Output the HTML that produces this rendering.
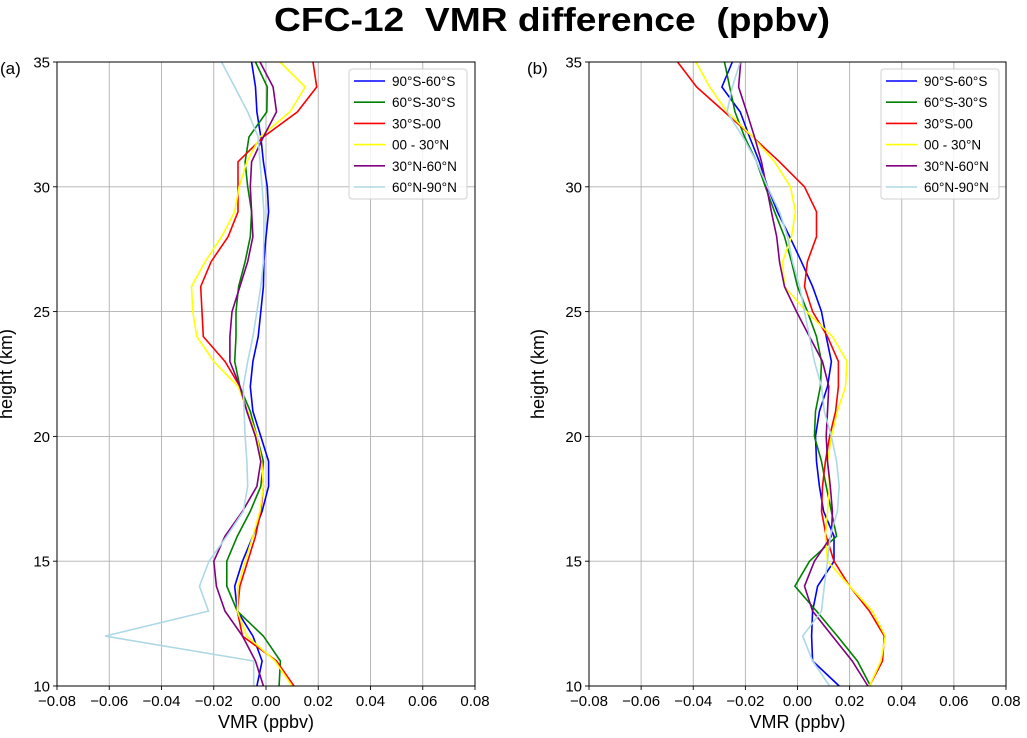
<!DOCTYPE html>
<html><head><meta charset="utf-8"><style>
body{margin:0;background:#fff;}
svg{display:block;font-family:"Liberation Sans","DejaVu Sans",sans-serif;}
</style></head><body>
<svg id="fig" width="1027" height="738" viewBox="0 0 1027 738">
<text x="552" y="31" text-anchor="middle" font-size="33" font-weight="bold" style="white-space:pre" textLength="556" lengthAdjust="spacingAndGlyphs">CFC-12  VMR difference  (ppbv)</text>
</svg>
<script>
const heights=[10,11,12,13,14,15,16,17,18,19,20,21,22,23,24,25,26,27,28,29,30,31,32,33,34,35];
const xTicks=[-0.08,-0.06,-0.04,-0.02,0.00,0.02,0.04,0.06,0.08];
const xTickLabels=["\u22120.08","\u22120.06","\u22120.04","\u22120.02","0.00","0.02","0.04","0.06","0.08"];
const yTicks=[10,15,20,25,30,35];
const seriesNames=["90°S-60°S","60°S-30°S","30°S-00","00 - 30°N","30°N-60°N","60°N-90°N"];
const seriesColors=["#0000ff","#008000","#ff0000","#ffff00","#800080","#add8e6"];
const a_s1=[-0.0035,-0.0015,-0.005,-0.011,-0.012,-0.009,-0.005,-0.0015,0.001,0.001,-0.002,-0.005,-0.006,-0.005,-0.003,-0.002,-0.001,-0.0008,0,0.001,0.0005,-0.001,-0.002,-0.0035,-0.004,-0.0055];
const a_s2=[0.005,0.0055,-0.001,-0.011,-0.015,-0.015,-0.011,-0.006,-0.002,-0.001,-0.0035,-0.006,-0.010,-0.012,-0.0115,-0.0115,-0.0105,-0.008,-0.006,-0.0055,-0.007,-0.008,-0.0065,0.0003,0.0005,-0.004];
const a_s3=[0.0107,0.004,-0.009,-0.011,-0.010,-0.007,-0.004,-0.002,-0.001,-0.0017,-0.004,-0.0073,-0.010,-0.0157,-0.024,-0.0245,-0.025,-0.021,-0.0145,-0.0107,-0.0107,-0.0107,-0.001,0.012,0.0194,0.018];
const a_s4=[0.010,0.0035,-0.0073,-0.011,-0.0107,-0.008,-0.005,-0.0023,-0.001,-0.0017,-0.0035,-0.007,-0.0107,-0.020,-0.0265,-0.028,-0.0285,-0.0233,-0.017,-0.012,-0.0103,-0.0073,-0.0023,0.0092,0.015,0.0054];
const a_s5=[-0.001,-0.004,-0.009,-0.0157,-0.019,-0.020,-0.0157,-0.009,-0.0035,-0.002,-0.004,-0.0073,-0.010,-0.0138,-0.0138,-0.013,-0.010,-0.007,-0.005,-0.0055,-0.006,-0.0055,-0.001,0.004,0.0027,-0.0023];
const a_s6=[-0.0047,-0.0047,-0.0616,-0.022,-0.0255,-0.0218,-0.015,-0.0087,-0.007,-0.0073,-0.008,-0.0084,-0.0087,-0.007,-0.005,-0.0035,-0.002,-0.001,-0.0008,-0.0008,-0.0015,-0.0023,-0.003,-0.007,-0.012,-0.017];
const b_s1=[0.016,0.0058,0.0054,0.0058,0.0077,0.014,0.014,0.010,0.0084,0.0073,0.0069,0.0084,0.0115,0.013,0.011,0.0092,0.0058,0.0015,-0.003,-0.0077,-0.0115,-0.0146,-0.0184,-0.022,-0.029,-0.025];
const b_s2=[0.028,0.023,0.0153,0.0073,-0.001,0.0046,0.015,0.013,0.011,0.0092,0.0065,0.0069,0.0088,0.0092,0.0073,0.0038,0,-0.0023,-0.005,-0.0088,-0.0123,-0.0157,-0.0203,-0.024,-0.026,-0.028];
const b_s3=[0.0276,0.0326,0.0333,0.0276,0.020,0.014,0.011,0.0092,0.0096,0.0107,0.0123,0.0146,0.0157,0.0157,0.0115,0.0058,0.0027,0.0038,0.0073,0.0073,0.0027,-0.0069,-0.0172,-0.028,-0.0387,-0.046];
const b_s4=[0.0276,0.032,0.0337,0.0287,0.020,0.0115,0.0107,0.0115,0.0123,0.0115,0.013,0.0153,0.0184,0.019,0.0134,0.0034,-0.005,-0.0057,-0.0023,-0.0008,-0.0027,-0.0088,-0.0172,-0.027,-0.0337,-0.039];
const b_s5=[0.027,0.021,0.0134,0.0058,0.0027,0.0065,0.013,0.0134,0.0126,0.0115,0.011,0.0115,0.012,0.0096,0.0046,-0.0004,-0.005,-0.0069,-0.008,-0.010,-0.0119,-0.0138,-0.0165,-0.0195,-0.0226,-0.0218];
const b_s6=[0.0123,0.0058,0.002,0.0092,0.0103,0.0115,0.0126,0.0153,0.016,0.015,0.013,0.0103,0.0092,0.0065,0.0046,0.0027,0.0008,-0.0019,-0.0038,-0.0069,-0.0115,-0.0157,-0.021,-0.027,-0.025,-0.022];

const NS='http://www.w3.org/2000/svg';
const svg=document.getElementById('fig');
function mk(tag,attrs,parent){const e=document.createElementNS(NS,tag);for(const k in attrs)e.setAttribute(k,attrs[k]);(parent||svg).appendChild(e);return e;}

function panel(id,L,R,T,B,series,label,legX,labX){
  const g=mk('g',{});
  
  
  const xs=v=>L+(v-(-0.08))/(0.16)*(R-L);
  const ys=h=>B-(h-10)/25*(B-T);
  xTicks.forEach((t,i)=>{
    const gl=mk('line',{x1:xs(t),x2:xs(t),y1:T,y2:B,stroke:'#b0b0b0','stroke-width':0.9},g);
    
    
    mk('line',{x1:xs(t),x2:xs(t),y1:B,y2:B+4,stroke:'#000','stroke-width':0.9},g);
    const tx=mk('text',{x:xs(t),y:B+20,'text-anchor':'middle','font-size':15},g);
    tx.textContent=xTickLabels[i];
    
    
  });
  yTicks.forEach(t=>{
    const gl=mk('line',{x1:L,x2:R,y1:ys(t),y2:ys(t),stroke:'#b0b0b0','stroke-width':0.9},g);
    
    
    mk('line',{x1:L-4,x2:L,y1:ys(t),y2:ys(t),stroke:'#000','stroke-width':0.9},g);
    const tx=mk('text',{x:L-7,y:ys(t)+5.5,'text-anchor':'end','font-size':15},g);
    tx.textContent=t;
    
    
  });
  series.forEach((s,i)=>{
    const pts=s.map((v,j)=>xs(v).toFixed(1)+','+ys(heights[j]).toFixed(1)).join(' ');
    const pl=mk('polyline',{points:pts,fill:'none',stroke:seriesColors[i],'stroke-width':1.6},g);
    
    
  });
  const fr=mk('rect',{x:L,y:T,width:R-L,height:B-T,fill:'none',stroke:'#000','stroke-width':1},g);
  
  
  const pl=mk('text',{x:labX,y:T+12,'font-size':17},g);
  pl.textContent=label;
  
  
  const xl=mk('text',{x:(L+R)/2,y:B+42,'text-anchor':'middle','font-size':18},g);
  xl.textContent='VMR (ppbv)';
  
  
  const cy=(T+B)/2;
  const yl=mk('text',{x:L-45,y:cy,'text-anchor':'middle','font-size':18,transform:'rotate(-90 '+(L-45)+' '+cy+')'},g);
  yl.textContent='height (km)';
  
  
  const lg=mk('g',{},g);
  
  
  mk('rect',{x:legX,y:69,width:118,height:130,rx:3,fill:'#fff','fill-opacity':0.85,stroke:'#d0d0d0','stroke-width':1},lg);
  seriesNames.forEach((n,i)=>{
    const y=81+i*21.2;
    mk('line',{x1:legX+5,x2:legX+36,y1:y,y2:y,stroke:seriesColors[i],'stroke-width':1.6},lg);
    const t=mk('text',{x:legX+43,y:y+5,'font-size':13.5},lg);
    t.textContent=n;
    
    
  });
}
panel('a',57,475,62,686,[a_s1,a_s2,a_s3,a_s4,a_s5,a_s6],'(a)',349,0);
panel('b',589,1006,62,686,[b_s1,b_s2,b_s3,b_s4,b_s5,b_s6],'(b)',881,527);
</script>
</body></html>
